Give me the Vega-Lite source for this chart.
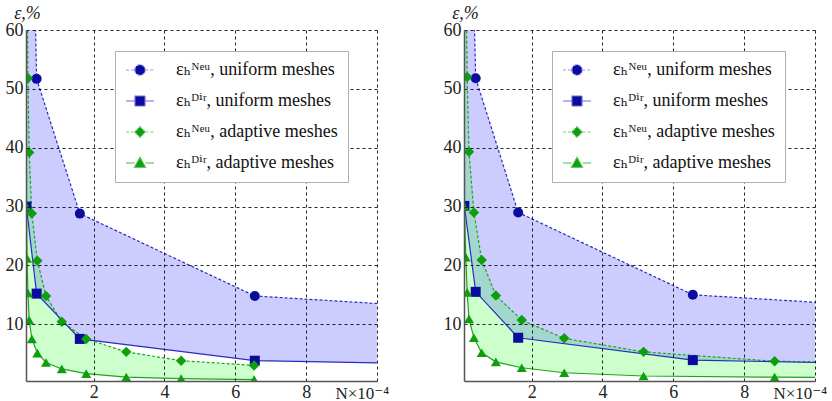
{
  "$schema": "https://vega.github.io/schema/vega-lite/v6.json",
  "padding": {"left": 5, "top": 4, "right": 0, "bottom": 0},
  "spacing": 54,
  "datasets": {
    "L": [
      {"m": "uniform", "k": "Neu", "N": 0.1, "e": 135},
      {"m": "uniform", "k": "Neu", "N": 0.39, "e": 51.7},
      {"m": "uniform", "k": "Neu", "N": 1.61, "e": 28.8},
      {"m": "uniform", "k": "Neu", "N": 6.55, "e": 14.8},
      {"m": "uniform", "k": "Neu", "N": 26.2, "e": 7.5},
      {"m": "uniform", "k": "Dir", "N": 0.1, "e": 30},
      {"m": "uniform", "k": "Dir", "N": 0.39, "e": 15.2},
      {"m": "uniform", "k": "Dir", "N": 1.61, "e": 7.5},
      {"m": "uniform", "k": "Dir", "N": 6.55, "e": 3.8},
      {"m": "uniform", "k": "Dir", "N": 26.2, "e": 1.6},
      {"m": "adaptive", "k": "Neu", "N": 0.1, "e": 110},
      {"m": "adaptive", "k": "Neu", "N": 0.12, "e": 68},
      {"m": "adaptive", "k": "Neu", "N": 0.145, "e": 51.8},
      {"m": "adaptive", "k": "Neu", "N": 0.18, "e": 39.2},
      {"m": "adaptive", "k": "Neu", "N": 0.255, "e": 28.8},
      {"m": "adaptive", "k": "Neu", "N": 0.41, "e": 20.8},
      {"m": "adaptive", "k": "Neu", "N": 0.655, "e": 14.8},
      {"m": "adaptive", "k": "Neu", "N": 1.1, "e": 10.4},
      {"m": "adaptive", "k": "Neu", "N": 1.79, "e": 7.5},
      {"m": "adaptive", "k": "Neu", "N": 2.92, "e": 5.3},
      {"m": "adaptive", "k": "Neu", "N": 4.47, "e": 3.8},
      {"m": "adaptive", "k": "Neu", "N": 6.53, "e": 3.0},
      {"m": "adaptive", "k": "Dir", "N": 0.1, "e": 30},
      {"m": "adaptive", "k": "Dir", "N": 0.12, "e": 21.2},
      {"m": "adaptive", "k": "Dir", "N": 0.145, "e": 15.3},
      {"m": "adaptive", "k": "Dir", "N": 0.18, "e": 10.7},
      {"m": "adaptive", "k": "Dir", "N": 0.255, "e": 7.5},
      {"m": "adaptive", "k": "Dir", "N": 0.41, "e": 5.1},
      {"m": "adaptive", "k": "Dir", "N": 0.655, "e": 3.5},
      {"m": "adaptive", "k": "Dir", "N": 1.1, "e": 2.4},
      {"m": "adaptive", "k": "Dir", "N": 1.79, "e": 1.6},
      {"m": "adaptive", "k": "Dir", "N": 2.92, "e": 1.0},
      {"m": "adaptive", "k": "Dir", "N": 4.47, "e": 0.75},
      {"m": "adaptive", "k": "Dir", "N": 6.53, "e": 0.6}
    ],
    "R": [
      {"m": "uniform", "k": "Neu", "N": 0.1, "e": 135},
      {"m": "uniform", "k": "Neu", "N": 0.42, "e": 51.8},
      {"m": "uniform", "k": "Neu", "N": 1.62, "e": 29.0},
      {"m": "uniform", "k": "Neu", "N": 6.55, "e": 15.0},
      {"m": "uniform", "k": "Neu", "N": 26.2, "e": 7.8},
      {"m": "uniform", "k": "Dir", "N": 0.1, "e": 30.1},
      {"m": "uniform", "k": "Dir", "N": 0.42, "e": 15.5},
      {"m": "uniform", "k": "Dir", "N": 1.62, "e": 7.7},
      {"m": "uniform", "k": "Dir", "N": 6.55, "e": 3.9},
      {"m": "uniform", "k": "Dir", "N": 26.2, "e": 1.6},
      {"m": "adaptive", "k": "Neu", "N": 0.1, "e": 110},
      {"m": "adaptive", "k": "Neu", "N": 0.14, "e": 72},
      {"m": "adaptive", "k": "Neu", "N": 0.18, "e": 52},
      {"m": "adaptive", "k": "Neu", "N": 0.23, "e": 39.3},
      {"m": "adaptive", "k": "Neu", "N": 0.37, "e": 29.0},
      {"m": "adaptive", "k": "Neu", "N": 0.59, "e": 20.9},
      {"m": "adaptive", "k": "Neu", "N": 0.99, "e": 14.9},
      {"m": "adaptive", "k": "Neu", "N": 1.72, "e": 10.7},
      {"m": "adaptive", "k": "Neu", "N": 2.92, "e": 7.6},
      {"m": "adaptive", "k": "Neu", "N": 5.16, "e": 5.3},
      {"m": "adaptive", "k": "Neu", "N": 8.86, "e": 3.7},
      {"m": "adaptive", "k": "Neu", "N": 15.2, "e": 3.2},
      {"m": "adaptive", "k": "Dir", "N": 0.1, "e": 30},
      {"m": "adaptive", "k": "Dir", "N": 0.14, "e": 21.4},
      {"m": "adaptive", "k": "Dir", "N": 0.18, "e": 15.4},
      {"m": "adaptive", "k": "Dir", "N": 0.23, "e": 10.9},
      {"m": "adaptive", "k": "Dir", "N": 0.37, "e": 7.7},
      {"m": "adaptive", "k": "Dir", "N": 0.59, "e": 5.15},
      {"m": "adaptive", "k": "Dir", "N": 0.99, "e": 3.6},
      {"m": "adaptive", "k": "Dir", "N": 1.72, "e": 2.6},
      {"m": "adaptive", "k": "Dir", "N": 2.92, "e": 1.75},
      {"m": "adaptive", "k": "Dir", "N": 5.16, "e": 1.2},
      {"m": "adaptive", "k": "Dir", "N": 8.86, "e": 1.0},
      {"m": "adaptive", "k": "Dir", "N": 15.2, "e": 0.8}
    ]
  },
  "resolve": {
    "scale": {"fill": "independent", "stroke": "independent", "shape": "independent", "strokeDash": "independent", "color": "independent"},
    "legend": {"fill": "independent", "stroke": "independent", "shape": "independent", "strokeDash": "independent", "color": "independent"}
  },
  "hconcat": [
    {
      "width": 351, "height": 351,
      "data": {"name": "L"},
      "encoding": {
        "x": {"field": "N", "type": "quantitative", "title": "N×10⁻⁴", "scale": {"domain": [0.09, 10], "nice": false, "zero": false},
          "axis": {"values": [2, 4, 6, 8, 10], "labelExpr": "datum.value == 10 ? '' : datum.label", "labelPadding": 2, "titleX": 309, "titleY": 17, "titleFontSize": 17, "titleAlign": "left", "titleBaseline": "alphabetic", "titleAngle": 0, "zindex": 1}},
        "y": {"field": "e", "type": "quantitative", "title": "ε,%", "scale": {"domain": [0.35, 60], "nice": false, "zero": false},
          "axis": {"values": [10, 20, 30, 40, 50, 60], "labelPadding": 3, "titleAngle": 0, "titleX": 1, "titleY": -12, "titleAlign": "center", "titleBaseline": "alphabetic", "titleFontStyle": "italic", "zindex": 1}}
      },
      "layer": [
        {"transform": [{"filter": "datum.m == 'uniform'"}, {"pivot": "k", "value": "e", "groupby": ["m", "N"]}],
          "mark": {"type": "area", "color": "#0000ff", "opacity": 0.2, "clip": true},
          "encoding": {"y": {"field": "Neu", "type": "quantitative", "title": "ε,%", "scale": {"domain": [0.35, 60], "nice": false, "zero": false}}, "y2": {"field": "Dir"}}},
        {"transform": [{"filter": "datum.m == 'adaptive'"}, {"pivot": "k", "value": "e", "groupby": ["m", "N"]}],
          "mark": {"type": "area", "color": "#00ff00", "opacity": 0.2, "clip": true},
          "encoding": {"y": {"field": "Neu", "type": "quantitative", "title": "ε,%", "scale": {"domain": [0.35, 60], "nice": false, "zero": false}}, "y2": {"field": "Dir"}}},
        {"transform": [{"filter": "datum.k == 'Neu'"}],
          "mark": {"type": "line", "strokeDash": [3, 2], "strokeWidth": 1.2, "clip": true},
          "encoding": {"color": {"field": "m", "type": "nominal", "scale": {"domain": ["uniform", "adaptive"], "range": ["#2b2bc4", "#1ea51e"]}, "legend": null}}},
        {"transform": [{"filter": "datum.k == 'Dir'"}],
          "mark": {"type": "line", "strokeWidth": 1.2, "clip": true},
          "encoding": {"color": {"field": "m", "type": "nominal", "scale": {"domain": ["uniform", "adaptive"], "range": ["#2b2bc4", "#1ea51e"]}, "legend": null}}},
        {"transform": [{"filter": "datum.m == 'uniform' && datum.k == 'Neu'"}],
          "mark": {"type": "point", "shape": "circle", "filled": true, "color": "#0b0b9e", "opacity": 1, "size": 100, "clip": true}},
        {"transform": [{"filter": "datum.m == 'uniform' && datum.k == 'Dir'"}],
          "mark": {"type": "point", "shape": "square", "filled": true, "color": "#0b0b9e", "opacity": 1, "size": 100, "clip": true}},
        {"transform": [{"filter": "datum.m == 'adaptive' && datum.k == 'Neu'"}],
          "mark": {"type": "point", "shape": "diamond", "filled": true, "color": "#0e9e0e", "opacity": 1, "size": 110, "clip": true}},
        {"transform": [{"filter": "datum.m == 'adaptive' && datum.k == 'Dir'"}],
          "mark": {"type": "point", "shape": "triangle-up", "filled": true, "color": "#0e9e0e", "opacity": 1, "size": 100, "clip": true}},
        {"transform": [{"filter": "false"}],
          "mark": {"type": "point", "filled": true, "opacity": 1, "strokeWidth": 1.2},
          "encoding": {
            "fill": {"field": "s", "type": "nominal", "scale": {"domain": ["εₕᴺᵉᵘ, uniform meshes", "εₕᴰⁱʳ, uniform meshes", "εₕᴺᵉᵘ, adaptive meshes", "εₕᴰⁱʳ, adaptive meshes"], "range": ["#0b0b9e", "#0b0b9e", "#0e9e0e", "#0e9e0e"]},
              "legend": {"title": null, "orient": "none", "legendX": 89, "legendY": 21, "fillColor": "white", "strokeColor": "#b0b0b0", "padding": 10, "rowPadding": 13, "symbolSize": 100, "symbolStrokeWidth": 1.2, "symbolOpacity": 1, "symbolOffset": 6, "labelOffset": 27, "labelFont": "Liberation Serif, DejaVu Serif, serif", "labelFontSize": 18, "labelColor": "#111", "labelLimit": 400, "zindex": 2}},
            "stroke": {"field": "s", "type": "nominal", "scale": {"domain": ["εₕᴺᵉᵘ, uniform meshes", "εₕᴰⁱʳ, uniform meshes", "εₕᴺᵉᵘ, adaptive meshes", "εₕᴰⁱʳ, adaptive meshes"], "range": ["#9a9ae6", "#6e6ed8", "#7fd07f", "#4cbb4c"]}},
            "shape": {"field": "s", "type": "nominal", "scale": {"domain": ["εₕᴺᵉᵘ, uniform meshes", "εₕᴰⁱʳ, uniform meshes", "εₕᴺᵉᵘ, adaptive meshes", "εₕᴰⁱʳ, adaptive meshes"], "range": ["M-2.8,0H-1.05M1.05,0H2.8M-1.05,0A1.05,1.05,0,1,0,1.05,0A1.05,1.05,0,1,0,-1.05,0Z", "M-2.8,0H-1M1,0H2.8M-1,-1H1V1H-1Z", "M-2.8,0H-1.1M1.1,0H2.8M0,-1.1L1.1,0L0,1.1L-1.1,0Z", "M-2.8,0H-1.1M1.1,0H2.8M0,-1.1L1.1,0.85H-1.1Z"]}},
            "strokeDash": {"field": "s", "type": "nominal", "scale": {"domain": ["εₕᴺᵉᵘ, uniform meshes", "εₕᴰⁱʳ, uniform meshes", "εₕᴺᵉᵘ, adaptive meshes", "εₕᴰⁱʳ, adaptive meshes"], "range": [[3, 2], [1, 0], [3, 2], [1, 0]]}}
          }}
      ]
    },
    {
      "width": 351, "height": 351,
      "data": {"name": "R"},
      "encoding": {
        "x": {"field": "N", "type": "quantitative", "title": "N×10⁻⁴", "scale": {"domain": [0.09, 10], "nice": false, "zero": false},
          "axis": {"values": [2, 4, 6, 8, 10], "labelExpr": "datum.value == 10 ? '' : datum.label", "labelPadding": 2, "titleX": 309, "titleY": 17, "titleFontSize": 17, "titleAlign": "left", "titleBaseline": "alphabetic", "titleAngle": 0, "zindex": 1}},
        "y": {"field": "e", "type": "quantitative", "title": "ε,%", "scale": {"domain": [0.35, 60], "nice": false, "zero": false},
          "axis": {"values": [10, 20, 30, 40, 50, 60], "labelPadding": 3, "titleAngle": 0, "titleX": 1, "titleY": -12, "titleAlign": "center", "titleBaseline": "alphabetic", "titleFontStyle": "italic", "zindex": 1}}
      },
      "layer": [
        {"transform": [{"filter": "datum.m == 'uniform'"}, {"pivot": "k", "value": "e", "groupby": ["m", "N"]}],
          "mark": {"type": "area", "color": "#0000ff", "opacity": 0.2, "clip": true},
          "encoding": {"y": {"field": "Neu", "type": "quantitative", "title": "ε,%", "scale": {"domain": [0.35, 60], "nice": false, "zero": false}}, "y2": {"field": "Dir"}}},
        {"transform": [{"filter": "datum.m == 'adaptive'"}, {"pivot": "k", "value": "e", "groupby": ["m", "N"]}],
          "mark": {"type": "area", "color": "#00ff00", "opacity": 0.2, "clip": true},
          "encoding": {"y": {"field": "Neu", "type": "quantitative", "title": "ε,%", "scale": {"domain": [0.35, 60], "nice": false, "zero": false}}, "y2": {"field": "Dir"}}},
        {"transform": [{"filter": "datum.k == 'Neu'"}],
          "mark": {"type": "line", "strokeDash": [3, 2], "strokeWidth": 1.2, "clip": true},
          "encoding": {"color": {"field": "m", "type": "nominal", "scale": {"domain": ["uniform", "adaptive"], "range": ["#2b2bc4", "#1ea51e"]}, "legend": null}}},
        {"transform": [{"filter": "datum.k == 'Dir'"}],
          "mark": {"type": "line", "strokeWidth": 1.2, "clip": true},
          "encoding": {"color": {"field": "m", "type": "nominal", "scale": {"domain": ["uniform", "adaptive"], "range": ["#2b2bc4", "#1ea51e"]}, "legend": null}}},
        {"transform": [{"filter": "datum.m == 'uniform' && datum.k == 'Neu'"}],
          "mark": {"type": "point", "shape": "circle", "filled": true, "color": "#0b0b9e", "opacity": 1, "size": 100, "clip": true}},
        {"transform": [{"filter": "datum.m == 'uniform' && datum.k == 'Dir'"}],
          "mark": {"type": "point", "shape": "square", "filled": true, "color": "#0b0b9e", "opacity": 1, "size": 100, "clip": true}},
        {"transform": [{"filter": "datum.m == 'adaptive' && datum.k == 'Neu'"}],
          "mark": {"type": "point", "shape": "diamond", "filled": true, "color": "#0e9e0e", "opacity": 1, "size": 110, "clip": true}},
        {"transform": [{"filter": "datum.m == 'adaptive' && datum.k == 'Dir'"}],
          "mark": {"type": "point", "shape": "triangle-up", "filled": true, "color": "#0e9e0e", "opacity": 1, "size": 100, "clip": true}},
        {"transform": [{"filter": "false"}],
          "mark": {"type": "point", "filled": true, "opacity": 1, "strokeWidth": 1.2},
          "encoding": {
            "fill": {"field": "s", "type": "nominal", "scale": {"domain": ["εₕᴺᵉᵘ, uniform meshes", "εₕᴰⁱʳ, uniform meshes", "εₕᴺᵉᵘ, adaptive meshes", "εₕᴰⁱʳ, adaptive meshes"], "range": ["#0b0b9e", "#0b0b9e", "#0e9e0e", "#0e9e0e"]},
              "legend": {"title": null, "orient": "none", "legendX": 88, "legendY": 21, "fillColor": "white", "strokeColor": "#b0b0b0", "padding": 10, "rowPadding": 13, "symbolSize": 100, "symbolStrokeWidth": 1.2, "symbolOpacity": 1, "symbolOffset": 6, "labelOffset": 27, "labelFont": "Liberation Serif, DejaVu Serif, serif", "labelFontSize": 18, "labelColor": "#111", "labelLimit": 400, "zindex": 2}},
            "stroke": {"field": "s", "type": "nominal", "scale": {"domain": ["εₕᴺᵉᵘ, uniform meshes", "εₕᴰⁱʳ, uniform meshes", "εₕᴺᵉᵘ, adaptive meshes", "εₕᴰⁱʳ, adaptive meshes"], "range": ["#9a9ae6", "#6e6ed8", "#7fd07f", "#4cbb4c"]}},
            "shape": {"field": "s", "type": "nominal", "scale": {"domain": ["εₕᴺᵉᵘ, uniform meshes", "εₕᴰⁱʳ, uniform meshes", "εₕᴺᵉᵘ, adaptive meshes", "εₕᴰⁱʳ, adaptive meshes"], "range": ["M-2.8,0H-1.05M1.05,0H2.8M-1.05,0A1.05,1.05,0,1,0,1.05,0A1.05,1.05,0,1,0,-1.05,0Z", "M-2.8,0H-1M1,0H2.8M-1,-1H1V1H-1Z", "M-2.8,0H-1.1M1.1,0H2.8M0,-1.1L1.1,0L0,1.1L-1.1,0Z", "M-2.8,0H-1.1M1.1,0H2.8M0,-1.1L1.1,0.85H-1.1Z"]}},
            "strokeDash": {"field": "s", "type": "nominal", "scale": {"domain": ["εₕᴺᵉᵘ, uniform meshes", "εₕᴰⁱʳ, uniform meshes", "εₕᴺᵉᵘ, adaptive meshes", "εₕᴰⁱʳ, adaptive meshes"], "range": [[3, 2], [1, 0], [3, 2], [1, 0]]}}
          }}
      ]
    }
  ],
  "config": {
    "font": "Liberation Serif, DejaVu Serif, serif",
    "view": {"stroke": null},
    "axis": {"grid": true, "gridColor": "#000000", "gridDash": [3, 3], "gridOpacity": 0.85, "gridWidth": 1, "ticks": false, "domainColor": "#555555", "domainWidth": 1.5, "labelFont": "Liberation Serif, DejaVu Serif, serif", "labelFontSize": 18, "labelColor": "#222222", "labelFlush": false, "titleFont": "Liberation Serif, DejaVu Serif, serif", "titleFontSize": 18, "titleFontWeight": "normal", "titleColor": "#222222"}
  }
}
